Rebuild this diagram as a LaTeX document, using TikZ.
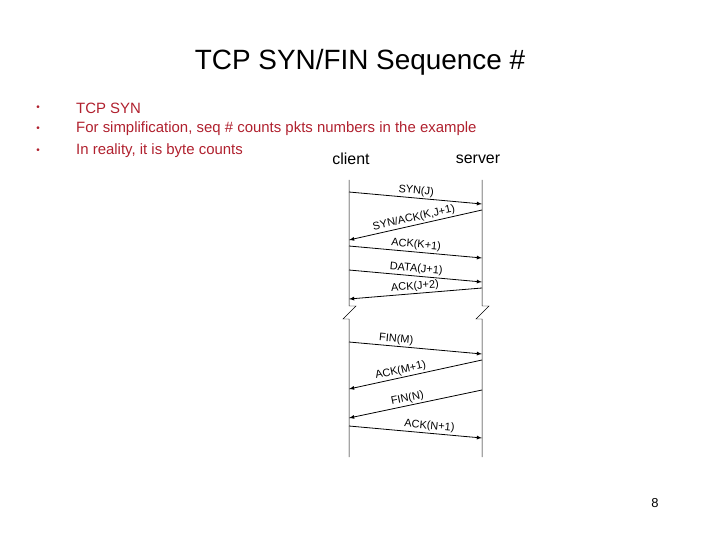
\documentclass[tikz,border=0pt]{standalone}
\usepackage{fontspec}
\setmainfont{Liberation Sans}
\definecolor{txtred}{HTML}{B0202E}
\begin{document}
\begin{tikzpicture}[x=1bp,y=-1bp,
  msg/.style={-latex, thick},
  lbl/.style={font=\fontsize{11}{12}\selectfont, sloped, above, inner sep=1.5pt},
  life/.style={line width=0.5pt}]
\useasboundingbox (0,0) rectangle (720,540);
\node (title) at (360,62) {\fontsize{28}{32}\selectfont TCP SYN/FIN Sequence \#};
\foreach \y/\t [count=\i] in {108/TCP SYN/FIN packets consume one sequence number,129/{For simplification, seq \# counts pkts numbers in the example},151/{In reality, it is byte counts}}{
  \node[anchor=west, text=txtred, font=\fontsize{15}{17}\selectfont, inner sep=0] (b\i) at (76,\y) {\t};
  \node[text=txtred, font=\fontsize{10}{12}\selectfont, inner sep=0] (d\i) at (38,\y) {•};
}
\node (client) at (351,159) {\fontsize{16}{18}\selectfont client};
\node (server) at (478,159) {\fontsize{16}{18}\selectfont server};
\node (pg) at (655,503) {\fontsize{13}{15}\selectfont 8};
% lifelines
\draw[life] (349,180) -- (349,306) -- (356,306) -- (343,319) -- (349,319) -- (349,457);
\draw[life] (482,180) -- (482,306) -- (489,306) -- (476,319) -- (482,319) -- (482,457);
\foreach \n/\x/\y in {c1/349/192,s1/482/204,s2/482/210,c2/349/240,c3/349/246,s3/482/258,c4/349/270,s4/482/282,s5/482/288,c5/349/299,c6/349/342,s6/482/354,s7/482/360,c7/349/389,s8/482/390,c8/349/418,c9/349/426,s9/482/438}
  \coordinate (\n) at (\x,\y);
\draw[msg] (c1) -- node[lbl]{SYN(J)} (s1);
\draw[msg] (s2) -- node[lbl]{SYN/ACK(K,J+1)} (c2);
\draw[msg] (c3) -- node[lbl]{ACK(K+1)} (s3);
\draw[msg] (c4) -- node[lbl]{DATA(J+1)} (s4);
\draw[msg] (s5) -- node[lbl]{ACK(J+2)} (c5);
\draw[msg] (c6) -- node[lbl,pos=0.35]{FIN(M)} (s6);
\draw[msg] (s7) -- node[lbl,pos=0.6]{ACK(M+1)} (c7);
\draw[msg] (s8) -- node[lbl,pos=0.55]{FIN(N)} (c8);
\draw[msg] (c9) -- node[lbl,pos=0.6]{ACK(N+1)} (s9);
\end{tikzpicture}
\end{document}
